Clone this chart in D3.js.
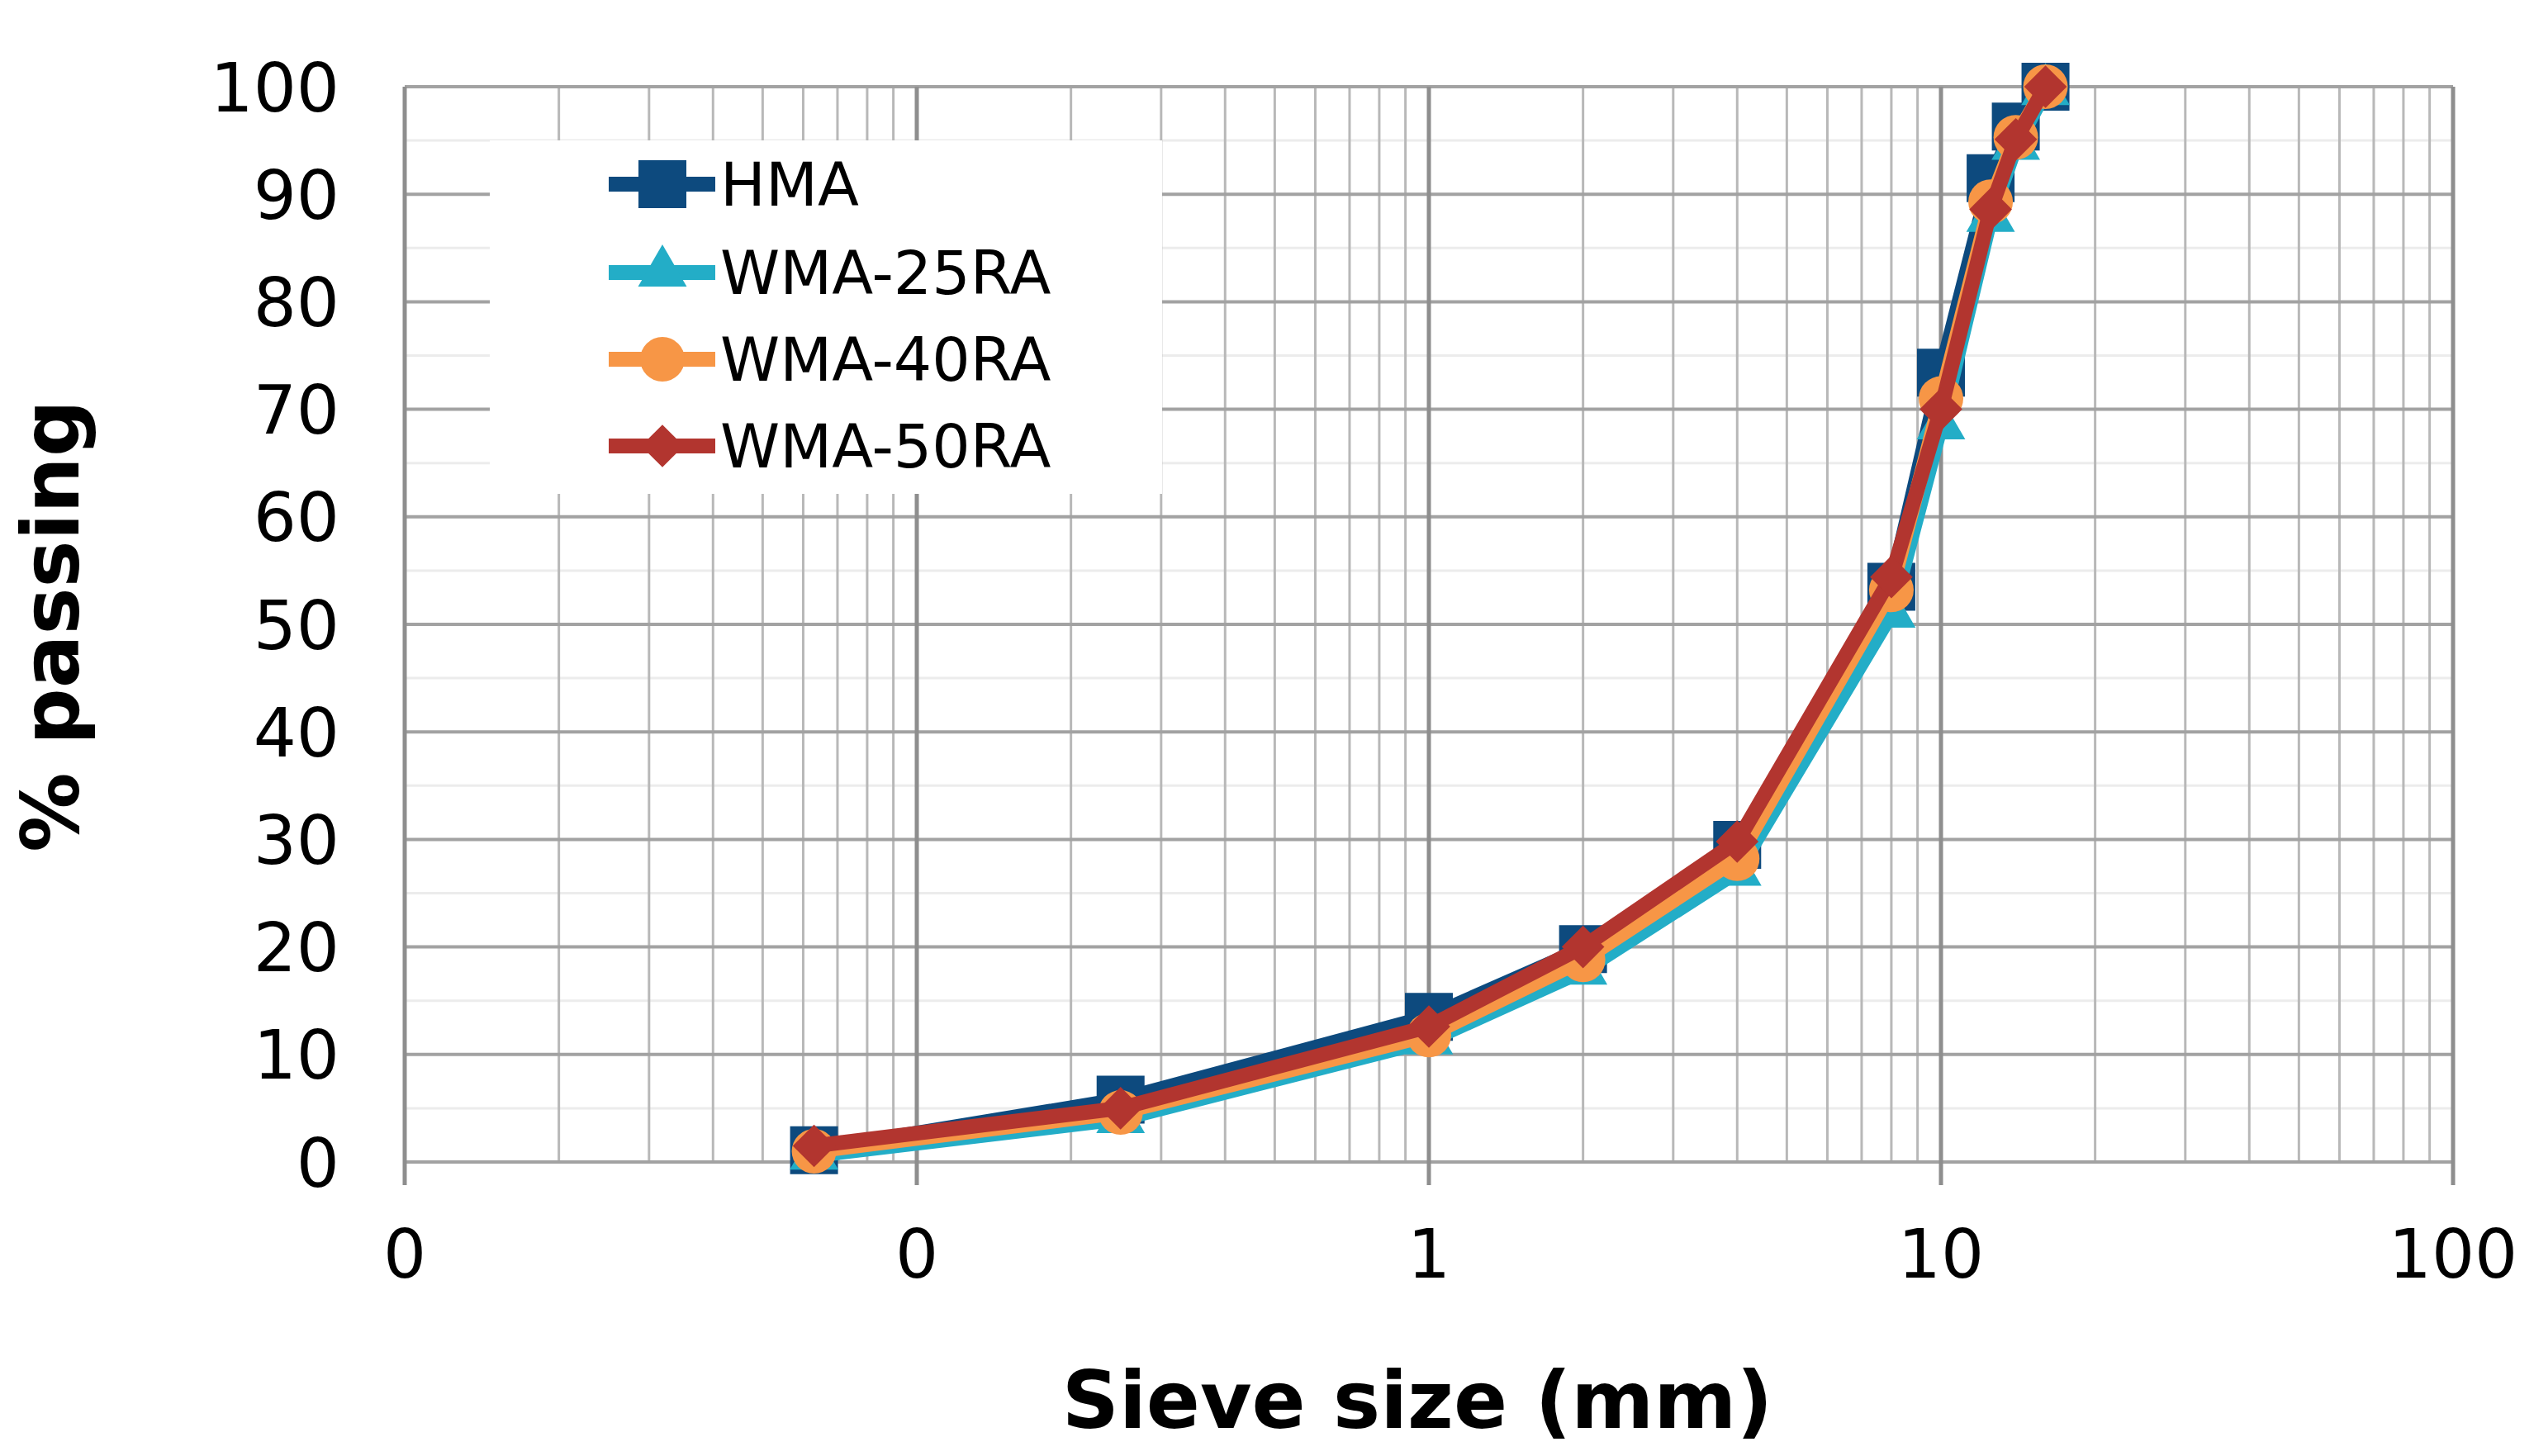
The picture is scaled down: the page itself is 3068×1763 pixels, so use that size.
<!DOCTYPE html>
<html>
<head>
<meta charset="utf-8">
<script src="https://cdn.jsdelivr.net/npm/d3@7"></script>
<style>
  body { margin: 0; background: #fff; }
  svg { display: block; }
  text { font-family: "DejaVu Sans", Verdana, sans-serif; fill: #000; }
</style>
</head>
<body>
<svg id="chart"></svg>
<script>
const W = 3068, H = 1763;

// sieve sizes (mm) and % passing for each mix
const sieveSizes = [0.063, 0.25, 1, 2, 4, 8, 10, 12.5, 14, 16];
const hma   = [1.1, 5.8, 13.5, 19.8, 29.5, 53.5, 73.4, 91.5, 96.3, 100];
const wma25 = [0.6, 4.0, 11.3, 17.8, 27.0, 51.0, 68.5, 87.8, 94.5, 99.6];
const wma40 = [1.0, 4.6, 11.8, 18.8, 28.2, 53.2, 71.0, 89.3, 95.3, 100];
const wma50 = [1.5, 5.0, 12.6, 20.0, 29.8, 54.4, 70.0, 88.6, 95.1, 100];

const seriesNames = ["HMA", "WMA-25RA", "WMA-40RA", "WMA-50RA"];
const seriesColors = ["#0d4a7e", "#23adc7", "#f79646", "#b2352f"];
const seriesValues = [hma, wma25, wma40, wma50];

const xTicks = [0.01, 0.1, 1, 10, 100];
const xTickLabels = ["0", "0", "1", "10", "100"];
const yTicks = d3.range(0, 101, 10);

const margin = { top: 105, right: 98, bottom: 356, left: 490 };
const plotW = W - margin.left - margin.right;
const plotH = H - margin.top - margin.bottom;

const svg = d3.select("#chart").attr("width", W).attr("height", H);
svg.append("rect").attr("width", W).attr("height", H).attr("fill", "#fff");

const g = svg.append("g").attr("transform", `translate(${margin.left},${margin.top})`);

const x = d3.scaleLog().domain([0.01, 100]).range([0, plotW]);
const y = d3.scaleLinear().domain([0, 100]).range([plotH, 0]);

// minor horizontal grid every 5
g.append("g").selectAll("line")
  .data(d3.range(5, 100, 10))
  .join("line")
  .attr("x1", 0).attr("x2", plotW)
  .attr("y1", d => y(d)).attr("y2", d => y(d))
  .attr("stroke", "#ececec").attr("stroke-width", 3);

// minor vertical grid (2..9 in each decade)
const minorX = [];
[0.01, 0.1, 1, 10].forEach(dec => { for (let k = 2; k <= 9; k++) minorX.push(dec * k); });
g.append("g").selectAll("line")
  .data(minorX)
  .join("line")
  .attr("x1", d => x(d)).attr("x2", d => x(d))
  .attr("y1", 0).attr("y2", plotH)
  .attr("stroke", "#b8b8b8").attr("stroke-width", 3);

// major horizontal grid
g.append("g").selectAll("line")
  .data(yTicks)
  .join("line")
  .attr("x1", 0).attr("x2", plotW)
  .attr("y1", d => y(d)).attr("y2", d => y(d))
  .attr("stroke", "#a2a2a2").attr("stroke-width", 4);

// major vertical grid + ticks below axis
g.append("g").selectAll("line")
  .data(xTicks)
  .join("line")
  .attr("x1", d => x(d)).attr("x2", d => x(d))
  .attr("y1", 0).attr("y2", plotH + 28)
  .attr("stroke", "#8e8e8e").attr("stroke-width", 5);

// legend box hides the grid behind it
const legX = 593 - margin.left, legY = 170 - margin.top;
g.append("rect")
  .attr("x", legX).attr("y", legY)
  .attr("width", 814).attr("height", 428)
  .attr("fill", "#fff");

// y tick labels
g.append("g").selectAll("text")
  .data(yTicks)
  .join("text")
  .attr("x", -79)
  .attr("y", d => y(d))
  .attr("dy", "0.36em")
  .attr("text-anchor", "end")
  .style("font-size", "82px")
  .text(d => d);

// x tick labels
g.append("g").selectAll("text")
  .data(xTicks)
  .join("text")
  .attr("x", d => x(d))
  .attr("y", plotH + 140)
  .attr("text-anchor", "middle")
  .style("font-size", "82px")
  .text((d, i) => xTickLabels[i]);

// axis titles
svg.append("text")
  .attr("transform", `translate(95,758) rotate(-90)`)
  .attr("text-anchor", "middle")
  .style("font-size", "96px").style("font-weight", "bold")
  .text("% passing");

svg.append("text")
  .attr("x", 1716).attr("y", 1729)
  .attr("text-anchor", "middle")
  .style("font-size", "96px").style("font-weight", "bold")
  .text("Sieve size (mm)");

// marker shapes
const markerPath = [
  d3.symbol().type(d3.symbolSquare).size(58 * 58)(),
  d3.symbol().type(d3.symbolTriangle).size(1500)(),
  d3.symbol().type(d3.symbolCircle).size(Math.PI * 27 * 27)(),
  d3.symbol().type(d3.symbolDiamond2).size(1700)()
];

const line = d3.line()
  .x(d => x(d[0]))
  .y(d => y(d[1]));

seriesValues.forEach((vals, i) => {
  const pts = sieveSizes.map((s, j) => [s, vals[j]]);
  const sg = g.append("g");
  sg.append("path")
    .datum(pts)
    .attr("d", line)
    .attr("fill", "none")
    .attr("stroke", seriesColors[i])
    .attr("stroke-width", 18)
    .attr("stroke-linejoin", "round");
  sg.selectAll("path.mk")
    .data(pts)
    .join("path")
    .attr("class", "mk")
    .attr("d", markerPath[i])
    .attr("transform", d => `translate(${x(d[0])},${y(d[1])})`)
    .attr("fill", seriesColors[i]);
});

// legend entries
const legRowY = [223, 330, 435, 540];
const leg = svg.append("g");
seriesNames.forEach((name, i) => {
  const ry = legRowY[i];
  leg.append("line")
    .attr("x1", 737).attr("x2", 866)
    .attr("y1", ry).attr("y2", ry)
    .attr("stroke", seriesColors[i]).attr("stroke-width", 18);
  leg.append("path")
    .attr("d", markerPath[i])
    .attr("transform", `translate(802,${ry})`)
    .attr("fill", seriesColors[i]);
  leg.append("text")
    .attr("x", 872).attr("y", ry)
    .attr("dy", "0.36em")
    .style("font-size", "73px")
    .text(name);
});
</script>
</body>
</html>
